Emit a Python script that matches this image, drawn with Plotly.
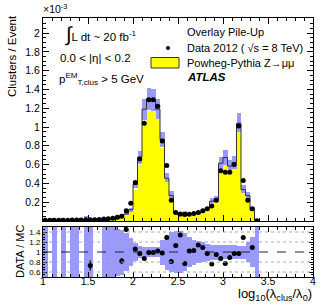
import numpy as np
import plotly.graph_objects as go

# ---------------- data ----------------
n_bins = 48
bin_lo, bin_w = 1.0, 0.05
edges = np.round(bin_lo + bin_w * np.arange(n_bins + 1), 3)
centers = np.round(edges[:-1] + bin_w / 2, 4)

data_vals = [0.008, 0.008, 0.008, 0.008, 0.009, 0.009, 0.010, 0.010, 0.011, 0.012,
             0.013, 0.014, 0.016, 0.020, 0.024, 0.030, 0.040, 0.050, 0.110, 0.190,
             0.410, 0.660, 1.040, 1.290, 1.290, 1.220, 0.850, 0.590, 0.220, 0.090,
             0.075, 0.070, 0.072, 0.080, 0.090, 0.110, 0.130, 0.160, 0.220, 0.535,
             0.520, 0.520, 0.600, 1.010, 0.430, 0.220, 0.130, 0.003]
data_err = [0.004] * 18 + [0.01] * 30

mc_total = [0.008, 0.0, 0.006, 0.0, 0.007, 0.0, 0.008, 0.008, 0.0, 0.012,
            0.018, 0.0, 0.0, 0.015, 0.020, 0.025, 0.025, 0.060, 0.076, 0.120,
            0.390, 0.680, 1.190, 1.300, 1.290, 1.190, 0.870, 0.455, 0.270, 0.080,
            0.056, 0.090, 0.070, 0.078, 0.079, 0.100, 0.134, 0.210, 0.230, 0.615,
            0.675, 0.584, 0.620, 1.040, 0.335, 0.270, 0.120, 0.010]
mc_err = [0.006, 0.0, 0.005, 0.0, 0.005, 0.0, 0.006, 0.006, 0.0, 0.040,
          0.010, 0.0, 0.0, 0.010, 0.010, 0.012, 0.012, 0.010, 0.012, 0.020,
          0.040, 0.070, 0.110, 0.115, 0.115, 0.110, 0.080, 0.060, 0.045, 0.012,
          0.010, 0.012, 0.010, 0.010, 0.012, 0.015, 0.020, 0.030, 0.035, 0.065,
          0.080, 0.070, 0.070, 0.110, 0.045, 0.040, 0.030, 0.010]
signal = [0.004, 0.0, 0.003, 0.0, 0.004, 0.0, 0.005, 0.005, 0.0, 0.006,
          0.010, 0.0, 0.0, 0.008, 0.012, 0.015, 0.017, 0.045, 0.060, 0.100,
          0.330, 0.600, 1.060, 1.170, 1.170, 1.090, 0.780, 0.410, 0.240, 0.070,
          0.050, 0.080, 0.062, 0.070, 0.070, 0.090, 0.120, 0.190, 0.200, 0.540,
          0.600, 0.520, 0.550, 0.950, 0.300, 0.240, 0.110, 0.0]

ratio_vals = [None] * 10 + [0.73] + [None] * 5 + [1.65, 0.82, 1.45, None,
              1.06, 0.97, 0.87, 0.99, 0.99, 1.02, 0.98, 1.29, 0.81, 1.13,
              1.34, 0.77, 1.02, 1.03, 1.14, 1.09, 0.97, 0.76, 0.95, 0.87,
              0.77, 0.89, 0.97, 0.97, 1.29, None, 1.09, None]
ratio_err = [0.0] * 10 + [0.1] + [0.0] * 5 + [0.2, 0.06, 0.05, 0.0] + [0.03] * 28
ratio_band = [0.6, 0.0, 0.6, 0.0, 0.6, 0.0, 0.6, 0.6, 0.0, 0.6,
              0.6, 0.0, 0.0, 0.6, 0.6, 0.6, 0.47, 0.45, 0.38, 0.28,
              0.18, 0.12, 0.10, 0.10, 0.10, 0.10, 0.25, 0.35, 0.40, 0.42,
              0.42, 0.38, 0.30, 0.25, 0.22, 0.20, 0.17, 0.15, 0.15, 0.14,
              0.14, 0.14, 0.14, 0.13, 0.13, 0.20, 0.30, 0.60]

x_ticks = [1, 1.5, 2, 2.5, 3, 3.5, 4]
y_ticks = [0.2, 0.4, 0.6, 0.8, 1.0, 1.2, 1.4, 1.6, 1.8, 2.0]
r_ticks = [0.6, 0.8, 1.0, 1.2, 1.4]

# ---------------- figure ----------------
BAND = "#9999ff"
YEL = "#ffff00"
FONT = "Liberation Sans"

mc = np.array(mc_total)
me = np.array(mc_err)
band_lo = np.clip(mc - me, 0, None)
band_hi = mc + me

rb = np.array(ratio_band)

fig = go.Figure()
fig.add_trace(go.Bar(x=centers, y=band_hi - band_lo, base=band_lo, width=bin_w,
                     marker=dict(color=BAND, line=dict(width=0)), xaxis="x", yaxis="y",
                     showlegend=False))
fig.add_trace(go.Bar(x=centers, y=signal, width=bin_w,
                     marker=dict(color=YEL, line=dict(width=0)), xaxis="x", yaxis="y",
                     showlegend=False))
# MC outline step line
step_x = [edges[0]] + list(edges[:-1]) + [edges[-1], edges[-1]]
step_y = [0.0] + list(mc_total) + [mc_total[-1], 0.0]
fig.add_trace(go.Scatter(x=step_x, y=step_y, mode="lines", line=dict(color="#333333", width=1, shape="hv"),
                         xaxis="x", yaxis="y", showlegend=False, hoverinfo="skip"))
fig.add_trace(go.Scatter(x=centers, y=data_vals, mode="markers",
                         marker=dict(color="black", size=5),
                         error_y=dict(type="data", array=data_err, color="black", thickness=1, width=0),
                         xaxis="x", yaxis="y", showlegend=False))

# ratio panel
fig.add_trace(go.Bar(x=centers, y=2 * rb, base=1 - rb, width=bin_w,
                     marker=dict(color=BAND, line=dict(width=0)), xaxis="x2", yaxis="y2",
                     showlegend=False))
fig.add_trace(go.Scatter(x=centers, y=ratio_vals, mode="markers",
                         marker=dict(color="black", size=5),
                         error_y=dict(type="data", array=ratio_err, color="black", thickness=1.2, width=0),
                         xaxis="x2", yaxis="y2", showlegend=False, cliponaxis=True))

shapes = []
for v in [0.6, 0.8, 1.2, 1.4]:
    shapes.append(dict(type="line", xref="x2", yref="y2", x0=1, x1=4, y0=v, y1=v,
                       line=dict(color="#aaaaaa", width=1, dash="dot"), layer="above"))
shapes.append(dict(type="line", xref="x2", yref="y2", x0=1, x1=4, y0=1, y1=1,
                   line=dict(color="#222222", width=1, dash="dash"), layer="above"))


def px(xp):
    return (xp - 43) / 270


def py(yp):
    return (277 - yp) / 259


# legend (manual)
shapes.append(dict(type="rect", xref="paper", yref="paper", x0=px(151), x1=px(179),
                   y0=py(68), y1=py(57.5),
                   fillcolor=YEL, line=dict(color="#333333", width=1)))
shapes.append(dict(type="circle", xref="paper", yref="paper",
                   x0=px(166), x1=px(170), y0=py(50), y1=py(46),
                   fillcolor="black", line=dict(color="black", width=0)))

annots = []
def txt(x, y, s, size=11, xanchor="left", yanchor="middle", **kw):
    annots.append(dict(xref="paper", yref="paper", x=px(x), y=py(y), text=s, showarrow=False,
                       xanchor=xanchor, yanchor=yanchor, font=dict(family=FONT, size=size, color="black"), **kw))

txt(185, 32, "Overlay Pile-Up", 11)
txt(185, 47.5, "Data 2012 ( \u221As = 8 TeV)", 11)
txt(185, 62.5, "Powheg-Pythia Z\u2192\u03bc\u03bc", 11)
txt(185, 77, "<b><i>ATLAS</i></b>", 11.5)

txt(63, 34, "<span style='font-size:20px'>\u222b</span>L dt ~ 20 fb<sup>-1</sup>", 11.5)
txt(58, 58, "0.0 < |\u03b7| < 0.2", 11.5)
txt(57, 79, "p<sup>EM</sup><sub>T,clus</sub> > 5 GeV", 11.5)

txt(41, 8, "\u00d710<sup>-3</sup>", 10.5)

# axis titles
annots.append(dict(xref="paper", yref="paper", x=px(12), y=py(13), text="Clusters / Event",
                   showarrow=False, textangle=-90, xanchor="center", yanchor="top",
                   font=dict(family=FONT, size=11.5, color="black")))
annots.append(dict(xref="paper", yref="paper", x=px(20), y=py(252), text="DATA / MC",
                   showarrow=False, textangle=-90, xanchor="center", yanchor="middle",
                   font=dict(family=FONT, size=11, color="black")))
annots.append(dict(xref="paper", yref="paper", x=px(314), y=py(294), text="log<sub>10</sub>(\u03bb<sub>clus</sub>/\u03bb<sub>0</sub>)",
                   showarrow=False, xanchor="right", yanchor="middle",
                   font=dict(family=FONT, size=13, color="black")))

axis_common = dict(showline=True, linecolor="black", linewidth=1, mirror="allticks",
                   ticks="inside", tickcolor="black", showgrid=False, zeroline=False,
                   tickfont=dict(family=FONT, size=10.5, color="black"))

fig.update_layout(
    width=329, height=305,
    margin=dict(l=43, r=16, t=18, b=28),
    paper_bgcolor="white", plot_bgcolor="white",
    barmode="overlay", bargap=0,
    showlegend=False, hovermode=False,
    shapes=shapes, annotations=annots,
    xaxis=dict(domain=[0, 1], anchor="y", range=[1, 4], tickvals=x_ticks, showticklabels=False,
               ticklen=6, minor=dict(dtick=0.1, ticklen=3, ticks="inside", tickcolor="black"), **axis_common),
    yaxis=dict(domain=[py(221), 1], anchor="x", range=[0, 2.16], tickvals=y_ticks,
               ticklen=6, minor=dict(dtick=0.05, ticklen=3, ticks="inside", tickcolor="black"), **axis_common),
    xaxis2=dict(domain=[0, 1], anchor="y2", range=[1, 4], tickvals=x_ticks, ticktext=[str(v) for v in x_ticks],
                ticklen=5, ticklabelstandoff=-6,
                minor=dict(dtick=0.1, ticklen=3, ticks="inside", tickcolor="black"), **axis_common),
    yaxis2=dict(domain=[0, py(227)], anchor="x2", range=[0.5, 1.5], tickvals=r_ticks,
                ticklen=4, minor=dict(dtick=0.05, ticklen=2, ticks="inside", tickcolor="black"),
                **{**axis_common, "tickfont": dict(family=FONT, size=8, color="black")}),
)

fig.write_html("out.html", config={"displayModeBar": False, "staticPlot": True},
               post_script="document.body.style.margin='0';document.body.style.padding='0';")
